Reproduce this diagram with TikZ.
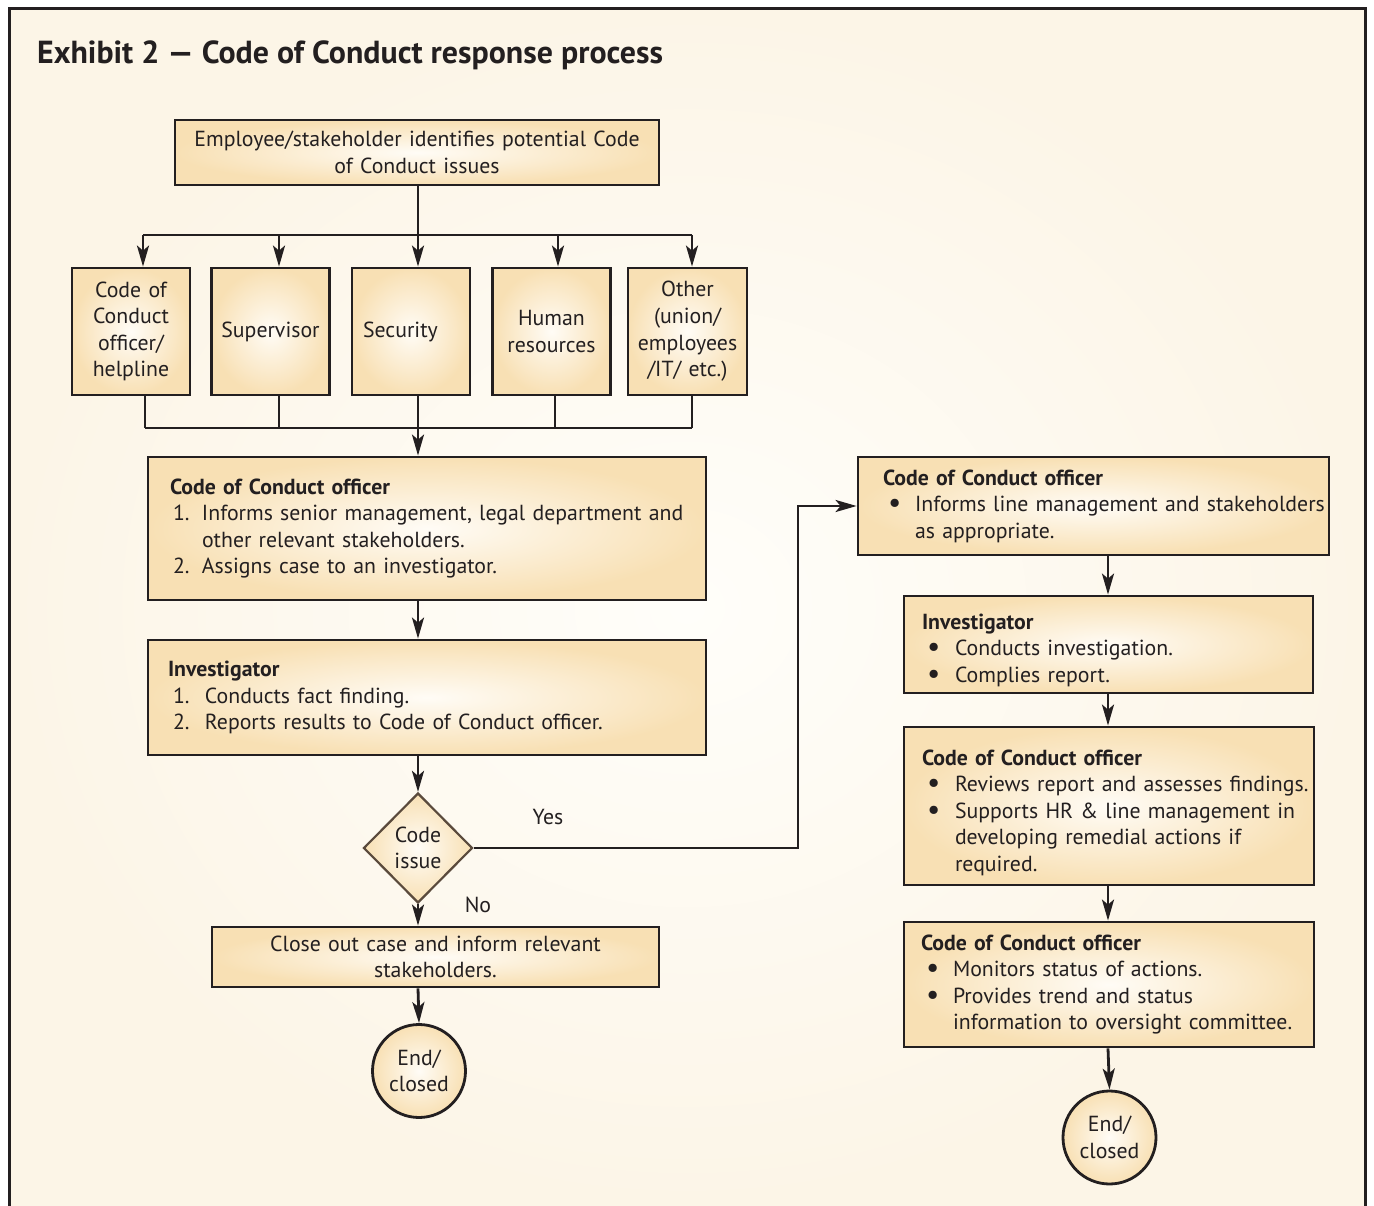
\documentclass[tikz,border=0pt]{standalone}
\usepackage{fontspec}
\setmainfont{PT Sans}
\usetikzlibrary{arrows.meta,shapes.geometric,calc}
\definecolor{bgin}{HTML}{FFFEFA}
\definecolor{bgout}{HTML}{FCF5E7}
\definecolor{boxout}{HTML}{F8E0B4}
\definecolor{boxin}{HTML}{FFFCF6}
\definecolor{ink}{HTML}{231F20}
\definecolor{diaedge}{HTML}{5A4A3C}
\newcommand\bodyfont{\fontsize{21.8}{26.6}\selectfont}
\newcommand\ttlfont{\fontsize{31.9}{36}\selectfont\bfseries}
\newcommand\itm[2]{\makebox[#1][l]{#2}}
\newcommand\bul[1]{\makebox[#1][l]{\hspace{5pt}\raisebox{-1pt}{\scalebox{1.35}{\textbullet}}}}
\newcommand\lyn[1]{\mbox{#1}}
\tikzset{
  box/.style={draw=ink, line width=2.8pt, rectangle, inner color=boxin, outer color=boxout,
    inner ysep=0pt, font=\bodyfont, text=ink},
  cbox/.style={box, align=center, inner xsep=2pt},
  lbox/.style={box, align=left},
  line/.style={draw=ink, line width=2.8pt},
  arr/.style={line, -{Stealth[length=21pt,width=12pt,inset=5pt]}},
  lbl/.style={font=\bodyfont, text=ink, inner sep=0pt}
}
\begin{document}
\begin{tikzpicture}[x=1pt,y=-1pt]
\useasboundingbox (0,0) rectangle (1374,1206);
\fill[white] (0,0) rectangle (1374,1206);
\fill[inner color=bgin, outer color=bgout] (9,9) rectangle (1365,1206);
\draw[ink, line width=3pt] (9,1206) -- (9,9) -- (1365,9) -- (1365,1206);

\node[anchor=base west, font=\ttlfont, text=ink, inner sep=0pt] (title) at (37,64) {Exhibit 2 — Code of Conduct response process};

% top box
\node[cbox, minimum width=484, minimum height=65, text width=478] (top) at (417,152.5)
  {Employee/stakeholder identifies potential Code\\of Conduct issues};

% five boxes
\node[cbox, minimum width=118, minimum height=127, text width=112] (b1) at (131,331.5) {Code of\\Conduct\\officer/\\helpline};
\node[cbox, minimum width=118, minimum height=127, text width=112] (b2) at (270.5,331.5) {Supervisor};
\node[cbox, minimum width=118, minimum height=127, text width=112] (b3) at (411,331.5) {\makebox[112pt][l]{\hspace{8pt}Security}};
\node[cbox, minimum width=118, minimum height=127, text width=112] (b4) at (551.5,331.5) {Human\\resources};
\node[cbox, minimum width=119, minimum height=127, text width=113] (b5) at (687.5,331.5) {Other\\(union/\\employees\\/IT/ etc.)};

% left column
\node[lbox, minimum width=558, minimum height=143, inner xsep=22pt, text width=514] (coc) at (427,528.5)
  {\lyn{\textbf{Code of Conduct officer}}\\
   \lyn{\hspace*{3pt}\itm{29pt}{1.}Informs senior management, legal department and}\\
   \lyn{\hspace*{3pt}\itm{29pt}{}other relevant stakeholders.}\\
   \lyn{\hspace*{3pt}\itm{29pt}{2.}Assigns case to an investigator.}\\[22pt]};
\node[lbox, minimum width=558, minimum height=115, inner xsep=20pt, text width=518] (inv) at (427,697.5)
  {\lyn{\textbf{Investigator}}\\
   \lyn{\hspace*{5pt}\itm{32pt}{1.}Conducts fact finding.}\\
   \lyn{\hspace*{5pt}\itm{32pt}{2.}Reports results to Code of Conduct officer.}\\[18pt]};
\node[diamond, draw=diaedge, line width=2.2pt, inner color=boxin, outer color=boxout,
  minimum width=109, minimum height=110, inner sep=0pt, align=center, font=\bodyfont, text=ink] (dia) at (418,848)
  {Code\\issue};
\node[cbox, minimum width=447, minimum height=60, text width=440] (close) at (435.5,957)
  {Close out case and inform relevant\\stakeholders.};
\node[circle, draw=ink, line width=2.8pt, inner color=boxin, outer color=boxout,
  minimum size=93, inner sep=0pt, align=center, font=\bodyfont, text=ink] (end1) at (419,1071) {End/\\closed};

% right column
\node[lbox, minimum width=471, minimum height=98, inner xsep=25pt, text width=421] (r1) at (1093.5,506)
  {\lyn{\textbf{Code of Conduct officer}}\\
   \lyn{\bul{32pt}Informs line management and stakeholders}\\
   \lyn{\hspace*{32pt}as appropriate.}};
\node[lbox, minimum width=409, minimum height=97, inner xsep=18pt, text width=373] (r2) at (1108.5,644.5)
  {\lyn{\rule{0pt}{27pt}\textbf{Investigator}}\\
   \lyn{\bul{33pt}Conducts investigation.}\\
   \lyn{\bul{33pt}Complies report.}};
\node[lbox, minimum width=410, minimum height=158, inner xsep=18pt, text width=374] (r3) at (1109,806)
  {\lyn{\rule{0pt}{29pt}\textbf{Code of Conduct officer}}\\
   \lyn{\bul{33pt}Reviews report and assesses findings.}\\
   \lyn{\bul{33pt}Supports HR \& line management in}\\
   \lyn{\hspace*{33pt}developing remedial actions if}\\
   \lyn{\hspace*{33pt}required.}};
\node[lbox, minimum width=410, minimum height=125, inner xsep=17pt, text width=376] (r4) at (1109,984.5)
  {\lyn{\textbf{Code of Conduct officer}}\\
   \lyn{\bul{32pt}Monitors status of actions.}\\
   \lyn{\bul{32pt}Provides trend and status}\\
   \lyn{\hspace*{32pt}information to oversight committee.}};
\node[circle, draw=ink, line width=2.8pt, inner color=boxin, outer color=boxout,
  minimum size=93, inner sep=0pt, align=center, font=\bodyfont, text=ink] (end2) at (1109.5,1137.5) {End/\\closed};

% labels
\node[lbl] (yes) at (548,817) {Yes};
\node[lbl] (no) at (478,905) {No};

% coordinates
\coordinate (a1) at (143,235);
\coordinate (a2) at (279,235);
\coordinate (a3) at (418,235);
\coordinate (a4) at (558,235);
\coordinate (a5) at (692,235);
\coordinate (c1) at (145,428);
\coordinate (c2) at (279,428);
\coordinate (c3) at (418,428);
\coordinate (c4) at (555,428);
\coordinate (c5) at (692,428);
\coordinate (mx) at (418,0);
\coordinate (rx) at (1108,0);
\coordinate (yc) at (798,848);

% top fan-out
\draw[line] (a3 |- top.south) -- (a3);
\draw[line] (a1) -- (a5);
\foreach \i in {1,...,5} {\draw[arr] (a\i) -- (a\i |- b\i.north);}

% fan-in
\foreach \i in {1,...,5} {\draw[line] (c\i |- b\i.south) -- (c\i);}
\draw[line] (c1) -- (c5);
\draw[arr] (c3) -- (c3 |- coc.north);

% main column
\draw[arr] (mx |- coc.south) -- (mx |- inv.north);
\draw[arr] (mx |- inv.south) -- (dia.north);
\draw[arr] (dia.south) -- (mx |- close.north);
\draw[arr] (mx |- close.south) -- (end1.north);

% yes branch
\draw[arr] (dia.east) -- (yc) |- (r1.west);

% right column
\draw[arr] (rx |- r1.south) -- (rx |- r2.north);
\draw[arr] (rx |- r2.south) -- (rx |- r3.north);
\draw[arr] (rx |- r3.south) -- (rx |- r4.north);
\draw[arr] (rx |- r4.south) -- (end2.north);
\end{tikzpicture}
\end{document}
